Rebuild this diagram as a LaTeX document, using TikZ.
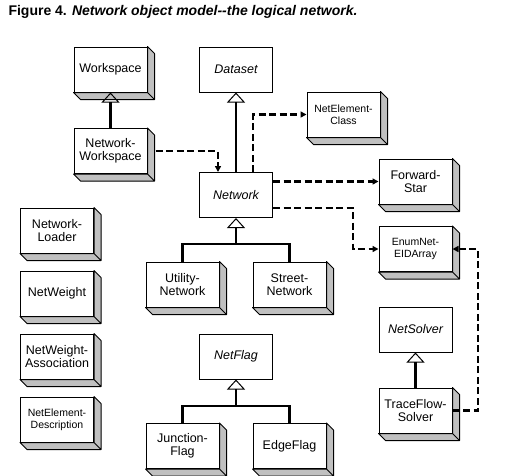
\documentclass[tikz,border=0pt]{standalone}
\usepackage{fontspec}
\setmainfont{Liberation Sans}
\usetikzlibrary{arrows.meta}
\definecolor{shadegray}{RGB}{192,192,192}
\tikzset{
  cls/.style={draw, fill=white, line width=1pt, minimum width=73pt, minimum height=45pt,
    inner sep=0pt, align=center, font=\fontsize{12.5}{13.5}\selectfont},
  abscls/.style={cls, font=\fontsize{12.5}{13.5}\selectfont\itshape},
  smalltext/.style={font=\fontsize{10.5}{12}\selectfont},
  shade3d/.style={draw, fill=shadegray, line width=1pt, line join=round},
  inh/.style={line width=2.6pt, -{Triangle[open, length=10pt, width=18pt, line width=1pt]}},
  link/.style={line width=2.6pt},
  dep/.style={line width=2.4pt, dash pattern=on 7pt off 3.5pt, -{Triangle[length=6pt, width=6pt]}},
}
\begin{document}
\begin{tikzpicture}[x=1pt, y=-1pt]
    \useasboundingbox (0,0) rectangle (525,475);
    \node [anchor=base west, font=\fontsize{14}{16}\selectfont\bfseries] (title) at (5,15)
      {Figure 4. \itshape Network object model-{}-the logical network.};
    % classes
    \node [cls] (ws) at (110.5,69.5) {Workspace};
    \node [abscls] (ds) at (236,69.5) {Dataset};
    \node [cls] (nws) at (110.5,151) {Network-\\Workspace};
    \node [abscls] (net) at (236,195) {Network};
    \node [cls, smalltext] (nec) at (343.5,114.5) {NetElement-\\Class};
    \node [cls] (fs) at (415.5,181.5) {Forward-\\Star};
    \node [cls, smalltext] (enum) at (415.5,249) {EnumNet-\\EIDArray};
    \node [cls] (util) at (182.5,284.5) {Utility-\\Network};
    \node [cls] (street) at (289.5,284.5) {Street-\\Network};
    \node [cls] (ldr) at (57,230.5) {Network-\\Loader};
    \node [cls] (wt) at (57,293.5) {NetWeight};
    \node [cls] (wta) at (57,356.5) {NetWeight-\\Association};
    \node [cls, smalltext] (ned) at (57,419.5) {NetElement-\\Description};
    \node [abscls] (flag) at (236,356.5) {NetFlag};
    \node [cls] (jf) at (182.5,446) {Junction-\\Flag};
    \node [cls] (ef) at (289.5,446) {EdgeFlag};
    \node [abscls] (solver) at (415.5,329.5) {NetSolver};
    \node [cls] (tfs) at (415.5,410.5) {TraceFlow-\\Solver};
    % 3d sides
    \foreach \n in {ws,nws,nec,fs,enum,util,street,ldr,wt,wta,ned,jf,ef,tfs}
      \draw [shade3d] (\n.north east) -- ++(7,7) |- ([shift={(7,7)}]\n.south west)
        -- (\n.south west) -- (\n.south east) -- cycle (\n.south east) -- ++(7,7);
    % inheritance
    \coordinate (netj) at (236,244);
    \coordinate (flagj) at (236,406);
    \draw [inh] (nws) -- (ws);
    \draw [inh] (net) -- (ds);
    \draw [link] (util) |- (netj) -| (street);
    \draw [inh] (netj) -- (net);
    \draw [link] (jf) |- (flagj) -| (ef);
    \draw [inh] (flagj) -- (flag);
    \draw [inh] (tfs) -- (solver);
    % uses
    \coordinate (bendA) at (353,249);
    \coordinate (bendB) at (478,249);
    \draw [dep] ([xshift=8pt]nws.east) -| ([xshift=-18pt]net.north);
    \draw [dep] ([xshift=17pt]net.north) |- (nec);
    \draw [dep] (net.east |- fs) -- (fs);
    \draw [dep] ([yshift=-13pt]net.east) -| (bendA) -- (enum);
    \draw [dep] (tfs.east) -| (bendB) -- (enum.east);
  \end{tikzpicture}
\end{document}
